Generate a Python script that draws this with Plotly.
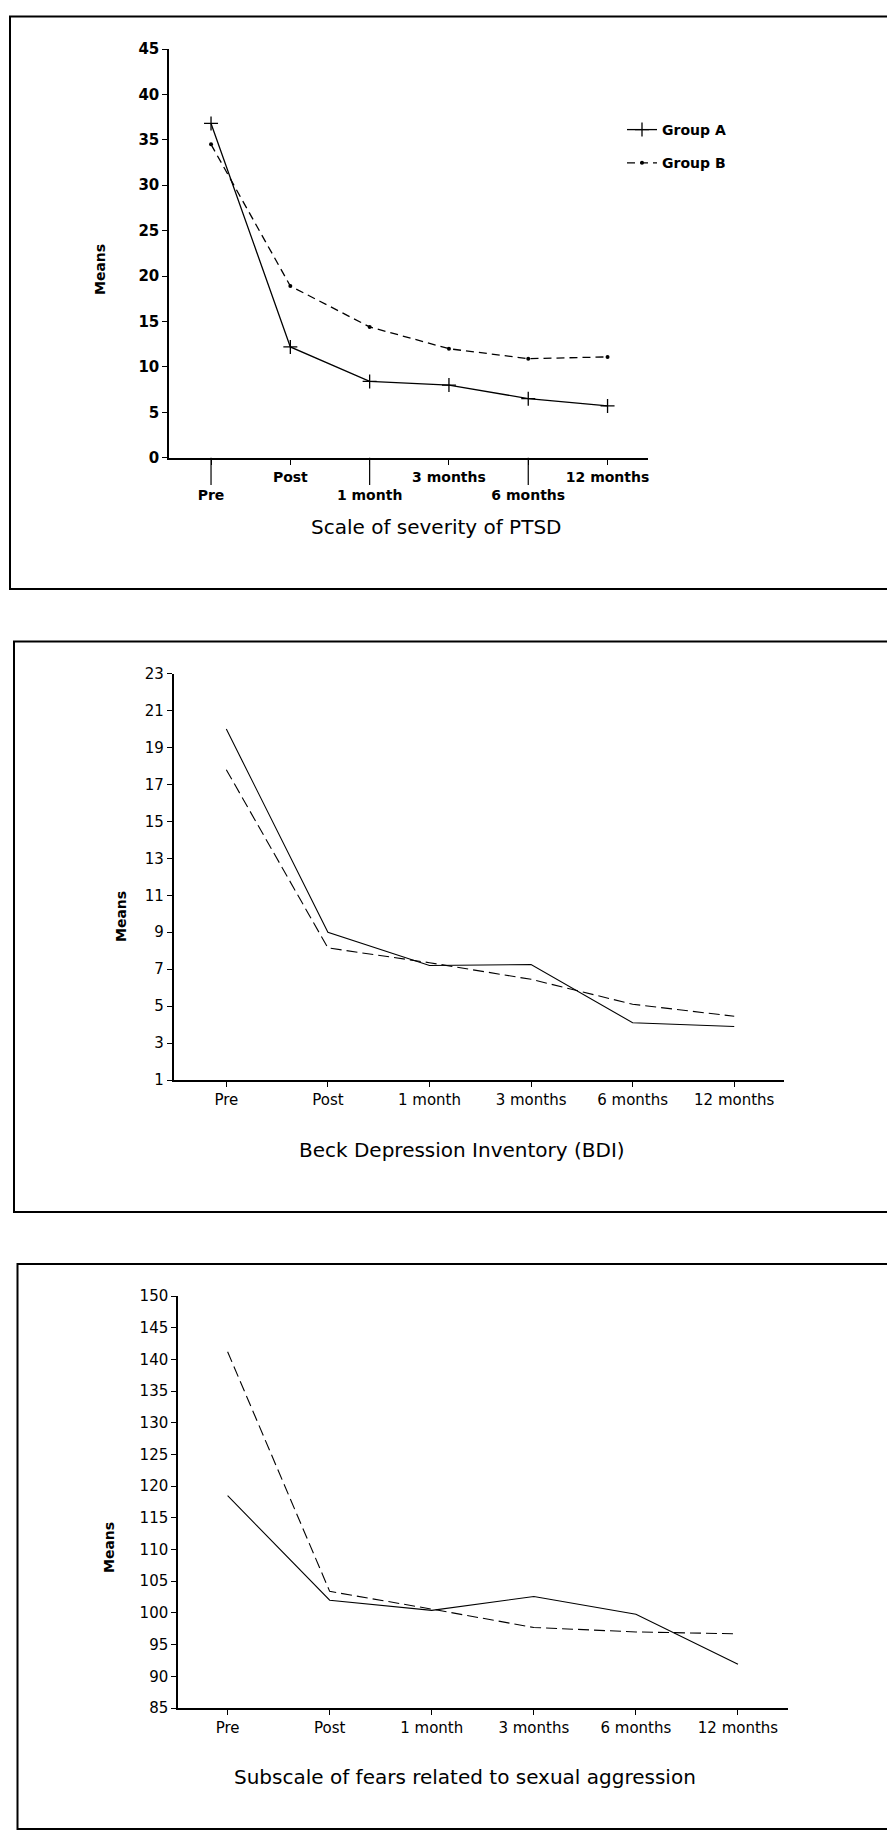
import plotly.graph_objects as go

# ---------------- data ----------------
categories = ["Pre", "Post", "1 month", "3 months", "6 months", "12 months"]
ptsd_tick_text = ["<br>Pre", "Post", "<br>1 month", "3 months", "<br>6 months", "12 months"]

ptsd_group_a = [36.8, 12.2, 8.4, 8.0, 6.5, 5.7]
ptsd_group_b = [34.5, 18.9, 14.4, 12.0, 10.9, 11.1]

bdi_group_a = [20.0, 9.0, 7.2, 7.25, 4.1, 3.9]
bdi_group_b = [17.8, 8.15, 7.35, 6.45, 5.1, 4.45]

fear_group_a = [118.5, 102.0, 100.4, 102.6, 99.8, 91.9]
fear_group_b = [141.2, 103.4, 100.6, 97.7, 97.0, 96.7]

ptsd_yticks = [0, 5, 10, 15, 20, 25, 30, 35, 40, 45]
bdi_yticks = [1, 3, 5, 7, 9, 11, 13, 15, 17, 19, 21, 23]
fear_yticks = [85, 90, 95, 100, 105, 110, 115, 120, 125, 130, 135, 140, 145, 150]

panel_titles = ["Scale of severity of PTSD",
                "Beck Depression Inventory (BDI)",
                "Subscale of fears related to sexual aggression"]
series_names = ["Group A", "Group B"]

W, H = 887, 1830
FONT = "DejaVu Sans"


def px_x(p):
    return p / W


def px_y(p):
    return 1 - p / H


fig = go.Figure()

# Panel 1 traces
fig.add_trace(go.Scatter(x=categories, y=ptsd_group_a, name=series_names[0], mode="lines+markers",
                         line=dict(color="black", width=1.3),
                         marker=dict(symbol="cross-thin", size=10, line=dict(color="black", width=1.3)),
                         xaxis="x", yaxis="y", legendgroup="A", cliponaxis=False))
fig.add_trace(go.Scatter(x=categories, y=ptsd_group_b, name=series_names[1], mode="lines+markers",
                         line=dict(color="black", width=1.3, dash="8px,5px"),
                         marker=dict(symbol="circle", size=4, color="black"),
                         xaxis="x", yaxis="y", legendgroup="B", cliponaxis=False))
# Panel 2 traces
fig.add_trace(go.Scatter(x=categories, y=bdi_group_a, name=series_names[0], mode="lines",
                         line=dict(color="black", width=1.1), showlegend=False,
                         xaxis="x2", yaxis="y2", cliponaxis=False))
fig.add_trace(go.Scatter(x=categories, y=bdi_group_b, name=series_names[1], mode="lines",
                         line=dict(color="black", width=1.1, dash="11px,5px"), showlegend=False,
                         xaxis="x2", yaxis="y2", cliponaxis=False))
# Panel 3 traces
fig.add_trace(go.Scatter(x=categories, y=fear_group_a, name=series_names[0], mode="lines",
                         line=dict(color="black", width=1.1), showlegend=False,
                         xaxis="x3", yaxis="y3", cliponaxis=False))
fig.add_trace(go.Scatter(x=categories, y=fear_group_b, name=series_names[1], mode="lines",
                         line=dict(color="black", width=1.1, dash="11px,5px"), showlegend=False,
                         xaxis="x3", yaxis="y3", cliponaxis=False))

axis_common = dict(showline=True, linecolor="black", linewidth=1.5, ticks="outside",
                   tickcolor="black", tickwidth=1.2, showgrid=False, zeroline=False,
                   fixedrange=True, automargin=False)

bold14 = dict(family=FONT, size=14, color="black", weight="bold")
bold15 = dict(family=FONT, size=15, color="black", weight="bold")
norm15 = dict(family=FONT, size=15, color="black")

fig.update_layout(
    width=W, height=H,
    margin=dict(l=0, r=0, t=0, b=0, autoexpand=False),
    paper_bgcolor="white", plot_bgcolor="white",
    showlegend=True,
    legend=dict(x=px_x(622), y=px_y(114), xanchor="left", yanchor="top",
                font=bold14, bgcolor="rgba(0,0,0,0)", tracegroupgap=12,
                traceorder="grouped", itemwidth=30),
    # Panel 1
    xaxis=dict(axis_common, type="category", domain=[px_x(169), px_x(648)], anchor="y",
               range=[-0.53, 5.51], ticklen=6, tickvals=categories, ticktext=ptsd_tick_text,
               tickfont=bold14, tickangle=0),
    yaxis=dict(axis_common, domain=[px_y(457.7), px_y(49)], anchor="x", range=[0, 45],
               tickvals=ptsd_yticks, ticklen=5, tickfont=bold15),
    # Panel 2
    xaxis2=dict(axis_common, type="category", domain=[px_x(173.5), px_x(784)], anchor="y2",
                range=[-0.52, 5.49], ticklen=5, tickfont=norm15, tickangle=0),
    yaxis2=dict(axis_common, domain=[px_y(1080), px_y(673.6)], anchor="x2", range=[1, 23],
                tickvals=bdi_yticks, ticklen=5, tickfont=norm15),
    # Panel 3
    xaxis3=dict(axis_common, type="category", domain=[px_x(178), px_x(788)], anchor="y3",
                range=[-0.486, 5.49], ticklen=5, tickfont=norm15, tickangle=0),
    yaxis3=dict(axis_common, domain=[px_y(1708), px_y(1296)], anchor="x3", range=[85, 150],
                tickvals=fear_yticks, ticklen=5, tickfont=norm15),
)

# Long tick marks for the lower-row labels in panel 1
for i, lab in enumerate(ptsd_tick_text):
    if lab.startswith("<br>"):
        fig.add_shape(type="line", xref="x", yref="paper", x0=i, x1=i,
                      y0=px_y(457.7), y1=px_y(485), line=dict(color="black", width=1.2))

# Panel frames (open to the right, as in the scan)
frames = [(10, 16.5, 589), (14, 641.5, 1212), (17.5, 1264, 1829)]
for x0, y0, y1 in frames:
    fig.add_shape(type="rect", xref="paper", yref="paper",
                  x0=px_x(x0), x1=px_x(W + 20), y0=px_y(y1), y1=px_y(y0),
                  line=dict(color="black", width=2))

# Panel titles
title_pos = [(436, 527), (462, 1150), (465, 1777)]
for t, (cx, cy) in zip(panel_titles, title_pos):
    fig.add_annotation(text=t, x=px_x(cx), y=px_y(cy), xref="paper", yref="paper",
                       xanchor="center", yanchor="middle", showarrow=False,
                       font=dict(family=FONT, size=20, color="black"))

# "Means" axis labels
means_pos = [(100, 270), (121, 917), (109, 1548)]
for cx, cy in means_pos:
    fig.add_annotation(text="Means", x=px_x(cx), y=px_y(cy), xref="paper", yref="paper",
                       xanchor="center", yanchor="middle", showarrow=False, textangle=-90,
                       font=dict(family=FONT, size=14, color="black", weight="bold"))

fig.write_html("out.html", config={"displayModeBar": False},
               post_script="document.body.style.margin='0';document.body.style.padding='0';")
